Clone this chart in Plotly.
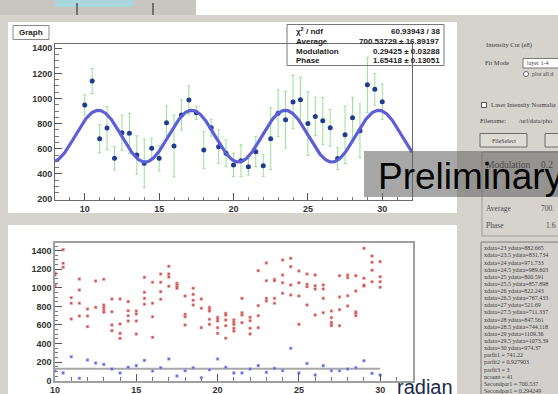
import numpy as np
import plotly.graph_objects as go

W, H = 558, 394

# ---------------- data: top graph (TGraphErrors) ----------------
x_top = [10, 10.5, 11, 11.5, 12, 12.5, 13, 13.5, 14, 14.5, 15, 15.5, 16, 16.5,
         17, 17.5, 18, 18.5, 19, 19.5, 20, 20.5, 21, 21.5, 22, 22.5, 23, 23.5,
         24, 24.5, 25, 25.5, 26, 26.5, 27, 27.5, 28, 28.5, 29, 29.5, 30]
y_top = [949, 1140, 680, 765, 524, 728, 723, 550, 484, 604, 524, 808, 622, 869,
         988, 887, 590, 768, 617, 564, 471, 505, 457, 577, 465, 680,
         882.665, 831.734, 971.733, 989.603, 800.591, 857.898, 822.243, 767.433,
         521.690, 711.337, 847.561, 744.118, 1109.36, 1073.39, 974.370]
err_top = [80, 100, 113, 172, 93, 140, 160, 153, 193, 80,
           100, 133, 246, 120, 113, 53, 146, 67, 133, 107,
           93, 127, 67, 120, 87, 246, 186, 226, 213, 180,
           253, 153, 187, 146, 87, 229, 160, 213, 220, 127, 140]

# fit results
fit_average = 700.53729
fit_average_err = 16.89197
fit_modulation = 0.29425
fit_modulation_err = 0.03288
fit_phase = 1.65418
fit_phase_err = 0.13051
chi2, ndf = 60.93943, 38

# ---------------- data: bottom scatter ----------------
red_x = [10, 10.5, 11, 11.5, 12, 12.5, 13, 13.5, 14, 14.5, 15, 15.5, 16, 16.5,
         17, 17.5, 18, 18.5, 19, 19.5, 20, 20.5, 21, 21.5, 22, 22.5, 23, 23.5,
         24, 24.5, 25, 25.5, 26, 26.5, 27, 27.5, 28, 28.5, 29, 29.5, 30]
red_y = [[1158, 1140, 1035, 1015], [1411, 1264, 1221], [894, 834, 665],
         [1095, 977, 834, 697], [772, 697, 582], [1074, 790],
         [1092, 815, 790, 762, 737], [880, 743, 600, 539], [880, 611, 510, 456],
         [851, 754, 700, 643], [750, 718, 643, 503], [1113, 952, 887, 823],
         [1060, 834, 689, 467], [1149, 1060, 959, 877], [1232, 1149, 1117, 1017],
         [1049, 1031, 1012, 995], [912, 715, 689, 600], [995, 930, 866, 815],
         [880, 780, 571], [790, 772, 750, 661, 607], [683, 665, 643, 571, 510],
         [726, 708, 654, 592, 457], [654, 629, 607, 564, 535], [887, 732, 708, 625],
         [683, 646, 564, 503], [1185, 808, 700, 571], [1268, 1077, 887, 858],
         [1092, 1077, 887, 834], [1300, 1138, 1055, 941], [1318, 1228, 1031, 923],
         [1181, 1055, 912, 607], [1149, 1038, 1012, 815], [1138, 1023, 988, 708],
         [1031, 988, 887, 732], [750, 679, 629, 607, 592], [1131, 901, 765, 592],
         [1138, 1109, 915, 805], [1131, 966, 743, 726, 700], [1426, 1103, 1031, 1020],
         [1343, 1275, 1189, 1066], [1282, 1120, 1066, 1006]]
blue_y = [104, 83, 258, 26, 223, 190, 176, 126, 83, 144, 162, 219, 104, 140,
          234, 51, 108, 140, 32, 118, 234, 144, 83, 83, 126, 162, 90, 133,
          108, 349, 83, 186, 61, 162, 108, 108, 126, 140, 215, 79, 61]
blue_level = 128
blue_level_span = [10, 30]

list_extra = ["parfit1 = 741.22", "parfit2 = 0.927903", "parfit3 = 3",
              "ncount = 41", "Secondpar1 = 700.537", "Secondpar1 = 0.294249"]

# ---------------- helpers ----------------
def PX(x):
    return x / W

def PY(y):
    return 1 - y / H

shapes = []
annotations = []

def rect(x0, y0, x1, y1, fill=None, line=None, lw=1, layer="below"):
    shapes.append(dict(type="rect", xref="paper", yref="paper",
                       x0=PX(x0), x1=PX(x1), y0=PY(y1), y1=PY(y0),
                       fillcolor=fill if fill else "rgba(0,0,0,0)",
                       line=dict(color=line if line else "rgba(0,0,0,0)",
                                 width=lw if line else 0),
                       layer=layer))

def vline(x, y0, y1, color, lw=1, layer="below"):
    shapes.append(dict(type="line", xref="paper", yref="paper",
                       x0=PX(x), x1=PX(x), y0=PY(y0), y1=PY(y1),
                       line=dict(color=color, width=lw), layer=layer))

def text(x, y, s, size=7, color="#3a3a3a", family="Liberation Serif",
         xanchor="left", yanchor="middle", weight="normal"):
    annotations.append(dict(xref="paper", yref="paper", x=PX(x), y=PY(y),
                            text=s, showarrow=False, xanchor=xanchor,
                            yanchor=yanchor, borderpad=0,
                            font=dict(size=size, color=color, family=family,
                                      weight=weight)))

# ---------------- GUI background elements ----------------
GUI = "#d6d3cd"
rect(196, 0, 558, 15, fill="#ffffff")
rect(0, 0, 196, 15, fill="#c9c6c0")
rect(55, 0, 134, 7, fill="#a9d6de")
vline(77, 3, 15, "#555555", 1.5)
vline(153, 3, 15, "#555555", 1.5)
rect(8, 22, 457, 213, fill="#ffffff")           # top canvas
rect(8, 225, 457, 394, fill="#ffffff")          # bottom canvas

# Graph title box
rect(13, 25.5, 49, 39.5, fill="#ffffff", line="#8a8a8a", lw=1)
text(31, 32.5, "Graph", size=8, color="#222", family="Liberation Sans",
     xanchor="center", weight="bold")

# stats box
rect(287, 24.5, 444, 65.5, line="#777777", lw=1, layer="above")
stat_rows = [
    ("χ<sup>2</sup> / ndf", f"{chi2:.5f} / {ndf}", 31.5),
    ("Average", f"{fit_average:.5f} ± {fit_average_err:.5f}", 41.3),
    ("Modulation", f"{fit_modulation:.5f} ± {fit_modulation_err:.5f}", 51.0),
    ("Phase", f"{fit_phase:.5f} ± {fit_phase_err:.5f}", 60.5),
]
for lab, val, yy in stat_rows:
    text(295, yy, lab, size=8, color="#222", family="Liberation Sans", weight="bold")
    text(441, yy, val, size=8, color="#222", family="Liberation Sans",
         xanchor="right", weight="bold")

# right control panel
text(485, 45, "Intensity Cut (e8)", size=6.5)
text(484, 63, "Fit Mode", size=6.5)
rect(523, 58.5, 560, 68, fill="#ffffff", line="#777777")
text(526, 63.3, "layer 1-4", size=6)
shapes.append(dict(type="circle", xref="paper", yref="paper",
                   x0=PX(523.5), x1=PX(528.5), y0=PY(76.5), y1=PY(71.5),
                   fillcolor="#ffffff", line=dict(color="#666", width=1), layer="below"))
text(531, 74, "plot all d", size=6)
rect(481.5, 102.5, 486.5, 107.5, fill="#ffffff", line="#555555")
text(490, 105, "Laser Intensity Normaliz", size=6.5)
text(479, 121, "Filename:", size=6.5)
text(518, 121, "/url/data/pho", size=6.5)
rect(480, 133.5, 527, 147, fill="#dedbd5", line="#6a6a6a")
text(503.5, 140.5, "FileSelect", size=6, xanchor="center")
rect(545, 133.5, 562, 147, fill="#dedbd5", line="#6a6a6a")
shapes.append(dict(type="path", xref="paper", yref="paper",
                   path=f"M{PX(482)},{PY(236)} L{PX(482)},{PY(152)} L{PX(560)},{PY(152)} "
                        f"M{PX(482)},{PY(236)} L{PX(560)},{PY(236)}",
                   line=dict(color="#9a9a9a", width=1), layer="below"))
text(485, 165, "Modulation", size=9.5, color="#4a4a4a")
text(540, 165, "0.2", size=9.5, color="#4a4a4a")
text(485, 208, "Average", size=7.5, color="#4a4a4a")
text(540, 208, "700.", size=7.5, color="#4a4a4a")
text(485, 225, "Phase", size=7.5, color="#4a4a4a")
text(545, 225, "1.6", size=7.5, color="#4a4a4a")

# list box
rect(481, 242, 560, 396, fill="#d2d0cc", line="#7a7a7a")
lines = [f"xdata={xv:g} ydata={yv:g}" for xv, yv in zip(x_top, y_top) if xv >= 23]
lines += list_extra
for i, s in enumerate(lines):
    text(483, 248.3 + i * 7.13, s, size=6, color="#3a3a3a")

# Preliminary overlay
rect(364, 151, 560, 197, fill="rgba(95,95,95,0.55)", layer="above")
text(377, 176, "Preliminary", size=37, color="#050505",
     family="Liberation Sans")

# radian label
text(396, 387, "radian", size=20, color="#1b2a4a", family="Liberation Sans")

# ---------------- traces ----------------
fig = go.Figure()

fig.add_trace(go.Scatter(
    x=x_top, y=y_top, mode="markers",
    marker=dict(size=5, color="#1f3d8f"),
    error_y=dict(type="data", array=err_top, color="#98e098", thickness=1, width=1.5),
    xaxis="x", yaxis="y", showlegend=False))

x_fit = np.linspace(8, 32, 500)
y_fit = fit_average * (1 + fit_modulation * np.cos(x_fit + fit_phase))
fig.add_trace(go.Scatter(
    x=x_fit, y=y_fit, mode="lines",
    line=dict(color="#5e5ed8", width=3.2),
    xaxis="x", yaxis="y", showlegend=False))

rx, ry = [], []
for xv, ys in zip(red_x, red_y):
    for yv in ys:
        rx.append(xv)
        ry.append(yv)
fig.add_trace(go.Scatter(
    x=rx, y=ry, mode="markers",
    marker=dict(size=2.6, symbol="square", color="rgba(195,40,40,0.85)",
                line=dict(color="rgba(240,170,170,0.6)", width=1)),
    xaxis="x2", yaxis="y2", showlegend=False))

fig.add_trace(go.Scatter(
    x=blue_level_span, y=[blue_level, blue_level], mode="lines",
    line=dict(color="#a8a8a8", width=2),
    xaxis="x2", yaxis="y2", showlegend=False))

fig.add_trace(go.Scatter(
    x=red_x, y=blue_y, mode="markers",
    marker=dict(size=2.6, symbol="square", color="rgba(60,70,215,0.85)",
                line=dict(color="rgba(170,175,245,0.6)", width=1)),
    xaxis="x2", yaxis="y2", showlegend=False))

tickfont = dict(size=9, color="#333333", family="Liberation Sans", weight="bold")

def axis(domain, rng, tick0, dtick, minor_dtick, anchor, linecolor, lw):
    return dict(domain=domain, range=rng, anchor=anchor, tickmode="linear",
                tick0=tick0, dtick=dtick, ticks="inside", ticklen=7,
                tickcolor="#555555", tickwidth=1, showline=True, mirror=True,
                linecolor=linecolor, linewidth=lw, showgrid=False,
                zeroline=False, tickfont=tickfont, automargin=False,
                minor=dict(dtick=minor_dtick, ticklen=3.5, ticks="inside",
                           tickcolor="#777777", showgrid=False))

fig.update_layout(
    width=W, height=H, autosize=False,
    margin=dict(l=0, r=0, t=0, b=0, pad=0),
    paper_bgcolor=GUI, plot_bgcolor="rgba(0,0,0,0)",
    xaxis=axis([PX(55), PX(412)], [8, 32], 10, 5, 1, "y", "#6a6a6a", 1),
    yaxis=axis([PY(200), PY(44.3)], [192, 1432], 0, 200, 50, "x", "#6a6a6a", 1),
    xaxis2=axis([PX(55), PX(412.7)], [10, 32], 10, 5, 1, "y2", "#a0a0a0", 1.5),
    yaxis2=axis([PY(380.7), PY(242.7)], [0, 1486], 0, 200, 50, "x2", "#a0a0a0", 1.5),
    shapes=shapes, annotations=annotations,
)

fig.write_html(
    "out.html",
    config={"displayModeBar": False},
    post_script="document.body.style.margin='0';document.body.style.padding='0';"
                "document.body.style.overflow='hidden';",
)
